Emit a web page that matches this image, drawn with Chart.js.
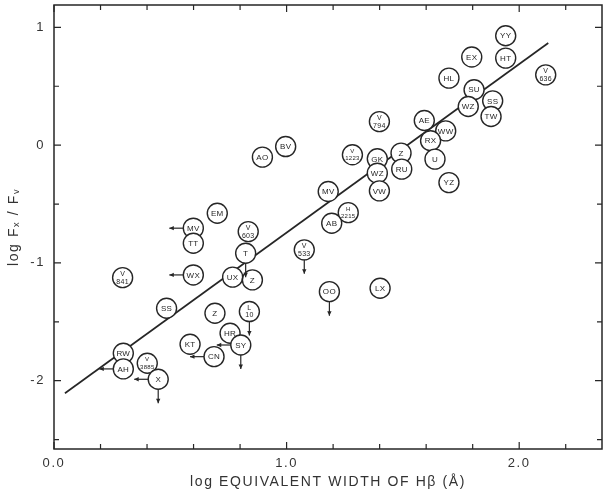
<!DOCTYPE html>
<html>
<head>
<meta charset="utf-8">
<script src="https://cdn.jsdelivr.net/npm/chart.js@4.4.0/dist/chart.umd.min.js"></script>
<style>
  html, body { margin: 0; padding: 0; background: #fff; overflow: hidden; }
  canvas { display: block; }
</style>
</head>
<body>
<canvas id="chart" width="605" height="495"></canvas>
<script>
// star labels, log EW(Hbeta), log Fx/Fv, and limit arrows
const starNames = ['YY', 'HT', 'EX', 'V\n636', 'HL', 'SU', 'SS', 'WZ', 'TW', 'AE',
  'V\n794', 'WW', 'RX', 'Z', 'U', 'RU', 'V\n1223', 'GK', 'WZ', 'VW',
  'YZ', 'MV', 'H\n2215', 'AB', 'BV', 'AO', 'EM', 'MV', 'TT', 'V\n603',
  'T', 'V\n533', 'V\n841', 'WX', 'UX', 'Z', 'OO', 'LX', 'SS', 'Z',
  'L\n10', 'HR', 'SY', 'KT', 'CN', 'RW', 'AH', 'V\n3885', 'X'];
const starX = [1.942, 1.942, 1.796, 2.114, 1.698, 1.806, 1.886, 1.781, 1.879, 1.592,
  1.399, 1.684, 1.619, 1.492, 1.638, 1.495, 1.283, 1.390, 1.390, 1.399,
  1.698, 1.179, 1.265, 1.194, 0.996, 0.896, 0.702, 0.599, 0.599, 0.835,
  0.824, 1.076, 0.295, 0.599, 0.768, 0.853, 1.184, 1.402, 0.484, 0.692,
  0.840, 0.757, 0.803, 0.585, 0.688, 0.298, 0.298, 0.401, 0.448];
const starY = [0.929, 0.739, 0.748, 0.597, 0.569, 0.470, 0.376, 0.328, 0.243, 0.209,
  0.200, 0.121, 0.037, -0.068, -0.119, -0.204, -0.082, -0.116, -0.238, -0.388,
  -0.318, -0.394, -0.573, -0.663, -0.012, -0.102, -0.578, -0.705, -0.833, -0.734,
  -0.918, -0.889, -1.125, -1.102, -1.121, -1.144, -1.244, -1.215, -1.385, -1.427,
  -1.413, -1.597, -1.697, -1.691, -1.796, -1.767, -1.900, -1.852, -1.988];
const starLimit = ['', '', '', '', '', '', '', '', '', '',
  '', '', '', '', '', '', '', '', '', '',
  '', '', '', '', '', '', '', 'left', '', '',
  'down', 'down', '', 'left', '', '', 'down', '', '', '',
  'down', '', 'both', '', 'left', '', 'left', '', 'both'];

// fitted line end points
const fitX = [0.047, 2.125];
const fitY = [-2.107, 0.867];

// labelled ticks
const xTickValues = [0, 1, 2];
const xTickText = ['0.0', '1.0', '2.0'];
const yTickValues = [1, 0, -1, -2];
const yTickText = ['1', '0', '-1', '-2'];

const INK = '#262626';
const FONT = '"Liberation Sans", Arial, sans-serif';

function tickLabel(values, texts) {
  return v => {
    const i = values.findIndex(t => Math.abs(t - v) < 1e-6);
    return i >= 0 ? texts[i] : '';
  };
}

function arrow(ctx, x0, y0, x1, y1) {
  ctx.beginPath();
  ctx.moveTo(x0, y0);
  ctx.lineTo(x1, y1);
  ctx.stroke();
  const a = Math.atan2(y1 - y0, x1 - x0);
  ctx.beginPath();
  ctx.moveTo(x1, y1);
  ctx.lineTo(x1 - 5 * Math.cos(a - 0.45), y1 - 5 * Math.sin(a - 0.45));
  ctx.lineTo(x1 - 5 * Math.cos(a + 0.45), y1 - 5 * Math.sin(a + 0.45));
  ctx.closePath();
  ctx.fill();
}

// wide lettering like the hand-lettered original
const spacing = {
  id: 'spacing',
  beforeLayout(chart) { chart.ctx.letterSpacing = '1.6px'; },
  beforeDraw(chart) { chart.ctx.letterSpacing = '1.6px'; }
};

// labels inside the circles and the upper-limit arrows
const starLabels = {
  id: 'starLabels',
  afterDatasetsDraw(chart) {
    const ctx = chart.ctx;
    const meta = chart.getDatasetMeta(0);
    ctx.save();
    ctx.letterSpacing = '0.3px';
    ctx.fillStyle = INK;
    ctx.strokeStyle = INK;
    ctx.lineWidth = 1.2;
    ctx.textAlign = 'center';
    ctx.textBaseline = 'middle';
    meta.data.forEach((pt, i) => {
      const lines = starNames[i].split('\n');
      if (lines.length === 1) {
        ctx.font = '8px ' + FONT;
        ctx.fillText(lines[0], pt.x, pt.y + 0.5);
      } else {
        ctx.font = (lines[1].length > 3 ? '6px ' : '7px ') + FONT;
        ctx.fillText(lines[0], pt.x, pt.y - 3.5);
        ctx.fillText(lines[1], pt.x, pt.y + 4);
      }
      const lim = starLimit[i];
      if (lim === 'down' || lim === 'both') arrow(ctx, pt.x, pt.y + 10, pt.x, pt.y + 24);
      if (lim === 'left' || lim === 'both') arrow(ctx, pt.x - 10, pt.y, pt.x - 24, pt.y);
    });
    ctx.restore();
  }
};

// box frame with inward ticks on all four sides
const frameTicks = {
  id: 'frameTicks',
  afterDraw(chart) {
    const { ctx, chartArea: a, scales: { x, y } } = chart;
    ctx.save();
    ctx.strokeStyle = INK;
    ctx.lineWidth = 1.5;
    ctx.strokeRect(a.left, a.top, a.right - a.left, a.bottom - a.top);
    ctx.lineWidth = 1.2;
    ctx.beginPath();
    x.ticks.forEach(t => {
      const px = x.getPixelForValue(t.value);
      const len = t.label ? 7 : 5;
      ctx.moveTo(px, a.bottom); ctx.lineTo(px, a.bottom - len);
      ctx.moveTo(px, a.top); ctx.lineTo(px, a.top + len);
    });
    y.ticks.forEach(t => {
      const py = y.getPixelForValue(t.value);
      const len = t.label ? 7 : 5;
      ctx.moveTo(a.left, py); ctx.lineTo(a.left + len, py);
      ctx.moveTo(a.right, py); ctx.lineTo(a.right - len, py);
    });
    ctx.stroke();
    ctx.restore();
  }
};

new Chart(document.getElementById('chart'), {
  type: 'scatter',
  data: {
    datasets: [
      {
        data: starX.map((v, i) => ({ x: v, y: starY[i] })),
        pointRadius: 10,
        pointHoverRadius: 10,
        pointBackgroundColor: '#fff',
        pointBorderColor: INK,
        pointBorderWidth: 1.4
      },
      {
        type: 'line',
        data: fitX.map((v, i) => ({ x: v, y: fitY[i] })),
        borderColor: INK,
        borderWidth: 1.7,
        pointRadius: 0
      }
    ]
  },
  options: {
    responsive: false,
    animation: false,
    devicePixelRatio: 1,
    layout: { autoPadding: false, padding: { top: 5, right: 3, left: 0, bottom: 0 } },
    plugins: { legend: { display: false }, tooltip: { enabled: false } },
    scales: {
      x: {
        type: 'linear',
        min: 0,
        max: 2.356,
        grid: { display: false, drawTicks: false },
        border: { display: false },
        ticks: {
          stepSize: 0.2,
          includeBounds: false,
          autoSkip: false,
          maxRotation: 0,
          padding: 7,
          color: '#333',
          font: { family: FONT, size: 13 },
          callback: tickLabel(xTickValues, xTickText)
        },
        title: {
          display: true,
          text: 'log EQUIVALENT WIDTH OF Hβ (Å)',
          color: '#333',
          font: { family: FONT, size: 14 },
          padding: { top: 0, bottom: 4 }
        },
        afterFit: s => { s.height = 46; s.paddingLeft = 0; s.paddingRight = 0; }
      },
      y: {
        type: 'linear',
        min: -2.58,
        max: 1.19,
        grid: { display: false, drawTicks: false },
        border: { display: false },
        ticks: {
          stepSize: 0.5,
          includeBounds: false,
          autoSkip: false,
          padding: 9,
          color: '#333',
          font: { family: FONT, size: 13 },
          callback: tickLabel(yTickValues, yTickText)
        },
        title: {
          display: true,
          text: 'log Fₓ / Fᵥ',
          color: '#333',
          font: { family: FONT, size: 14 },
          padding: { top: 6, bottom: 0 }
        },
        afterFit: s => { s.width = 54; s.paddingTop = 0; s.paddingBottom = 0; }
      }
    }
  },
  plugins: [spacing, starLabels, frameTicks]
});
</script>
</body>
</html>
